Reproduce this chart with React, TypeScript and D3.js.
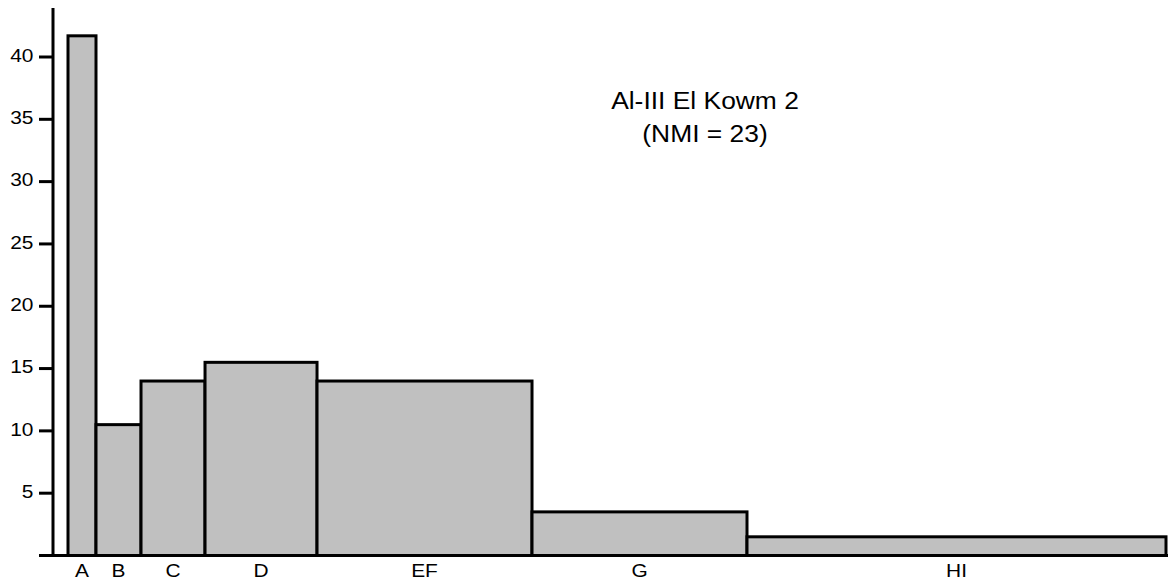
import React from "react";
import * as d3 from "d3";

const categories = ["A", "B", "C", "D", "EF", "G", "HI"];
// bin edges on a 0–100 relative width scale (variable-width classes)
const binEdges = [0, 2.55, 6.65, 12.48, 22.68, 42.26, 61.84, 100];
const values = [41.7, 10.5, 14, 15.5, 14, 3.5, 1.5];
const yTicks = [5, 10, 15, 20, 25, 30, 35, 40];
const titleLines = ["Al-III El Kowm 2", "(NMI = 23)"];

const W = 1168;
const H = 583;
const SX = 1.1;

function T({ x, y, anchor, size, children }: any) {
  return (
    <text
      transform={`translate(${x},${y}) scale(${SX},1)`}
      textAnchor={anchor}
      fontSize={size}
      fill="#000"
    >
      {children}
    </text>
  );
}

export default function App() {
  const x = d3.scaleLinear().domain([0, 100]).range([68, 1166]);
  const y = d3.scaleLinear().domain([0, 40]).range([555.5, 57]);
  const axisX = 53;
  const font = "Arial, 'Liberation Sans', Helvetica, sans-serif";
  return (
    <svg
      width={W}
      height={H}
      style={{ position: "absolute", left: 0, top: 0, background: "#fff" }}
      fontFamily={font}
    >
      {categories.map((c, i) => {
        const x0 = x(binEdges[i]);
        const x1 = x(binEdges[i + 1]);
        return (
          <g key={c}>
            <rect
              x={x0}
              y={y(values[i])}
              width={x1 - x0}
              height={y(0) - y(values[i])}
              fill="#c0c0c0"
              stroke="#000"
              strokeWidth={3}
            />
            <T x={(x0 + x1) / 2} y={576.5} anchor="middle" size={19}>
              {c}
            </T>
          </g>
        );
      })}
      {/* axes */}
      <line x1={axisX} x2={axisX} y1={8} y2={y(0) + 1.5} stroke="#000" strokeWidth={3} />
      <line x1={39} x2={W} y1={y(0)} y2={y(0)} stroke="#000" strokeWidth={3} />
      {yTicks.map((t) => (
        <g key={t}>
          <line x1={39} x2={axisX} y1={y(t)} y2={y(t)} stroke="#000" strokeWidth={3} />
          <T x={33.5} y={y(t) + 4.8} anchor="end" size={19}>
            {t}
          </T>
        </g>
      ))}
      {titleLines.map((t, i) => (
        <T key={i} x={705} y={109 + i * 33} anchor="middle" size={24}>
          {t}
        </T>
      ))}
    </svg>
  );
}
